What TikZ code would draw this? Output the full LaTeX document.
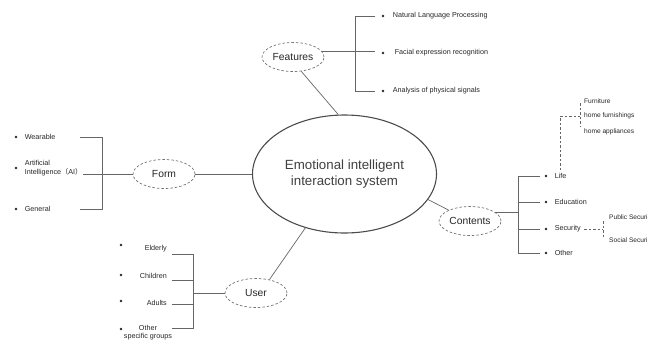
\documentclass[tikz,border=0pt]{standalone}
\usepackage{fontspec}
\setmainfont{Liberation Sans}
\newfontfamily\cjk{Noto Sans CJK SC}
\usetikzlibrary{positioning,calc,shapes.geometric}

\begin{document}
\begin{tikzpicture}[
    x=1pt, y=-1pt,
    line/.style={draw=black!60, line width=0.7pt},
    dline/.style={draw=black!60, dashed, dash pattern=on 2.5pt off 2pt, line width=0.7pt},
    hub/.style={ellipse, draw=black!70, line width=1.1pt, minimum width=184pt, minimum height=118pt, inner sep=0pt, align=center, text=black!75, font=\fontsize{13.3}{15.5}\selectfont},
    topic/.style={ellipse, draw=black!55, dashed, dash pattern=on 2.5pt off 2pt, line width=0.7pt, minimum width=62pt, minimum height=29pt, inner sep=0pt, text=black!85, font=\fontsize{10.3}{12}\selectfont},
    item/.style={inner sep=0pt, text=black!85, font=\fontsize{7.2}{8.5}\selectfont},
    subitem/.style={inner sep=0pt, anchor=west, text=black!85, font=\fontsize{6.6}{8}\selectfont},
    dot/.style={circle, fill=black!85, inner sep=0pt, minimum size=2.8pt}
]
\useasboundingbox (0,0) rectangle (649,341);

% centre and the four topics
\node[hub] (sys) at (344.5,174) {Emotional intelligent\\interaction system};
\node[topic] (feat) at (293,57) {Features};
\node[topic] (form) at (164,174) {Form};
\node[topic] (cont) at (470,221) {Contents};
\node[topic] (user) at (256,293) {User};

\draw[line] (feat.-60) -- (sys.96);
\draw[line] (form.east) -- (sys.west);
\draw[line] (sys.-17) -- (cont.153);
\draw[line] (user.45) -- (sys.-126);

% Features
\node[dot] (fb1) at (383,16) {};
\node[dot] (fb2) at (383,53) {};
\node[dot] (fb3) at (383,91) {};
\node[item, anchor=west, right=8pt of fb1] (ft1) {Natural Language Processing};
\node[item, anchor=west, right=10pt of fb2] (ft2) {Facial expression recognition};
\node[item, anchor=west, right=8pt of fb3] (ft3) {Analysis of physical signals};
\coordinate (fspine) at (355,0);
\draw[line] (feat.10) -- ([xshift=-6pt]fb2.west |- feat.10);
\draw[line] ([xshift=-6pt]fb1.west) -| (fspine |- fb3) -- ([xshift=-6pt]fb3.west);

% Form
\node[dot] (mb1) at (16,137) {};
\node[dot] (mb2) at (16,168) {};
\node[dot] (mb3) at (16,209) {};
\node[item, anchor=west, right=7pt of mb1] (mt1) {Wearable};
\node[item, anchor=west, align=left, right=7pt of mb2] (mt2) {Artificial\\Intelligence{\cjk （}AI{\cjk ）}};
\node[item, anchor=west, right=7pt of mb3] (mt3) {General};
\coordinate (mtip) at (80,0);
\coordinate (mspine) at (102,0);
\draw[line] (mtip |- mb1) -| (mspine |- mb3) -- (mtip |- mb3);
\draw[line] (form.west) -- (form.west -| mt2.east);

% Contents
\node[dot] (cb1) at (546,176) {};
\node[dot] (cb2) at (546,202) {};
\node[dot] (cb3) at (546,229) {};
\node[dot] (cb4) at (546,253) {};
\node[item, anchor=west, right=7pt of cb1] (ct1) {Life};
\node[item, anchor=west, right=7pt of cb2] (ct2) {Education};
\node[item, anchor=west, right=7pt of cb3] (ct3) {Security};
\node[item, anchor=west, right=7pt of cb4] (ct4) {Other};
\coordinate (ctip) at (540,0);
\coordinate (cspine) at (518,0);
\draw[line] (ctip |- cb1) -| (cspine |- cb4) -- (ctip |- cb4);
\draw[line] (cspine |- cb2) -- (ctip |- cb2);
\draw[line] (cspine |- cb3) -- (ctip |- cb3);
\draw[line] (cont.20) -- (cont.20 -| cspine);

% Life
\node[subitem] (lt1) at (584,101) {Furniture};
\node[subitem] (lt2) at (584,116) {home furnishings};
\node[subitem] (lt3) at (584,132) {home appliances};
\coordinate (lspine) at (580,0);
\draw[dline] ([yshift=3pt]ct1.north) |- (lspine |- lt2);
\draw[dline] ([yshift=-2pt]lspine |- lt1) -- ([yshift=6pt]lspine |- lt3);

% Security
\node[subitem] (st1) at (609,217) {Public Securi};
\node[subitem] (st2) at (609,240) {Social Securi};
\coordinate (sspine) at (603,0);
\draw[dline] ([xshift=3pt]ct3.east) -- (sspine |- ct3);
\draw[dline] ([yshift=-4pt]sspine |- st1) -- ([yshift=3pt]sspine |- st2);

% User
\node[dot] (ub1) at (121,245) {};
\node[dot] (ub2) at (121,275) {};
\node[dot] (ub3) at (121,301) {};
\node[dot] (ub4) at (121,329) {};
\node[item, anchor=east] (ut1) at (167,249) {Elderly};
\node[item, anchor=east] (ut2) at (167,276) {Children};
\node[item, anchor=east] (ut3) at (167,303) {Adults};
\node[item, anchor=north, align=center] (ut4) at (148,325) {Other\\specific groups};
\coordinate (utip) at (172,0);
\coordinate (uspine) at (193,0);
\draw[line] (utip |- 0,254) -| (uspine |- 0,328) -- (utip |- 0,328);
\draw[line] (uspine |- 0,280) -- (utip |- 0,280);
\draw[line] (uspine |- 0,304) -- (utip |- 0,304);
\draw[line] (user.west) -- (uspine |- user.west);
\end{tikzpicture}
\end{document}
